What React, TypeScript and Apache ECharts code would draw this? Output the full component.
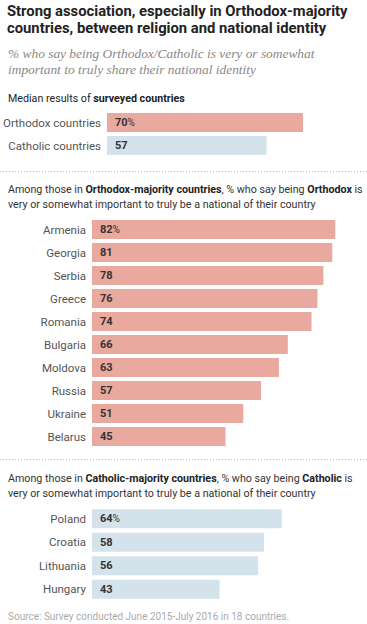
import React, { useEffect, useRef } from "react";
import * as echarts from "echarts";

const medianCategories = ["Orthodox countries", "Catholic countries"];
const medianValues = [70, 57];

const orthodoxCountries = ["Armenia", "Georgia", "Serbia", "Greece", "Romania", "Bulgaria", "Moldova", "Russia", "Ukraine", "Belarus"];
const orthodoxValues = [82, 81, 78, 76, 74, 66, 63, 57, 51, 45];

const catholicCountries = ["Poland", "Croatia", "Lithuania", "Hungary"];
const catholicValues = [64, 58, 56, 43];

const FONT = "Roboto, 'Liberation Sans', sans-serif";
const PINK = "#EAA99F";
const BLUE = "#D4E2EC";

export default function App() {
  const ref = useRef<HTMLDivElement>(null);
  useEffect(() => {
    const chart = echarts.init(ref.current!, null, { renderer: "svg" });
    const grids = [
      { left: 92, width: 267, top: 111, height: 46 },
      { left: 92, width: 267, top: 218, height: 230 },
      { left: 92, width: 267, top: 507, height: 94 },
    ];
    const cats = [medianCategories, orthodoxCountries, catholicCountries];
    const vals = [medianValues, orthodoxValues, catholicValues];
    const colors = [[PINK, BLUE], [PINK], [BLUE]];
    const labelFormatter = (p: any) => (p.dataIndex === 0 ? `{b|${p.value}}{p|%}` : `{b|${p.value}}`);
    const option: any = {
      animation: false,
      backgroundColor: "#fff",
      grid: grids,
      xAxis: grids.map((_, i) => ({
        type: "value", gridIndex: i, min: 0, max: 90, show: false,
      })),
      yAxis: grids.map((_, i) => ({
        type: "category", gridIndex: i, data: cats[i], inverse: true,
        axisLine: { show: false }, axisTick: { show: false },
        axisLabel: { color: "#555", fontSize: 11.5, fontFamily: FONT, margin: 6 },
      })),
      series: grids.map((_, i) => ({
        type: "bar", xAxisIndex: i, yAxisIndex: i, barWidth: 19,
        data: vals[i].map((v, j) => ({
          value: v,
          itemStyle: { color: colors[i].length > 1 ? colors[i][j] : colors[i][0] },
        })),
        label: {
          show: true, position: "insideLeft", distance: 8, formatter: labelFormatter,
          rich: {
            b: { fontWeight: "bold", fontSize: 11, color: "#333", fontFamily: FONT },
            p: { fontSize: 10, color: "#333", fontFamily: FONT },
          },
        },
      })),
      graphic: [
        { type: "text", left: 7, top: 2, style: { text: "Strong association, especially in Orthodox-majority\ncountries, between religion and national identity", font: `bold 14.8px ${FONT}`, fill: "#222", lineHeight: 17 } },
        { type: "text", left: 8, top: 45, style: { text: "% who say being Orthodox/Catholic is very or somewhat\nimportant to truly share their national identity", font: `italic 13.4px 'Liberation Serif', 'DejaVu Serif', serif`, fill: "#888", lineHeight: 16 } },
        { type: "text", left: 8, top: 93, style: { text: "Median results of {b|surveyed countries}", font: `10.7px ${FONT}`, fill: "#222", rich: { b: { fontWeight: "bold", fontSize: 10.7, fontFamily: FONT, fill: "#222" } } } },
        { type: "line", shape: { x1: 0, y1: 171.5, x2: 367, y2: 171.5 }, style: { stroke: "#bbb", lineWidth: 1, lineDash: [1, 2] } },
        { type: "text", left: 8, top: 182, style: { text: "Among those in {b|Orthodox-majority countries}, % who say being {b|Orthodox} is\nvery or somewhat important to truly be a national of their country", font: `10.7px ${FONT}`, fill: "#333", lineHeight: 15, rich: { b: { fontWeight: "bold", fontSize: 10.7, fontFamily: FONT, fill: "#222" } } } },
        { type: "line", shape: { x1: 0, y1: 459.5, x2: 367, y2: 459.5 }, style: { stroke: "#bbb", lineWidth: 1, lineDash: [1, 2] } },
        { type: "text", left: 8, top: 471, style: { text: "Among those in {b|Catholic-majority countries}, % who say being {b|Catholic} is\nvery or somewhat important to truly be a national of their country", font: `10.7px ${FONT}`, fill: "#333", lineHeight: 15, rich: { b: { fontWeight: "bold", fontSize: 10.7, fontFamily: FONT, fill: "#222" } } } },
        { type: "text", left: 8, top: 611, style: { text: "Source: Survey conducted June 2015-July 2016 in 18 countries.", font: `10px ${FONT}`, fill: "#aaa" } },
      ],
    };
    chart.setOption(option);
    return () => chart.dispose();
  }, []);
  return <div ref={ref} style={{ width: 367, height: 624, position: "absolute", left: 0, top: 0 }} />;
}
